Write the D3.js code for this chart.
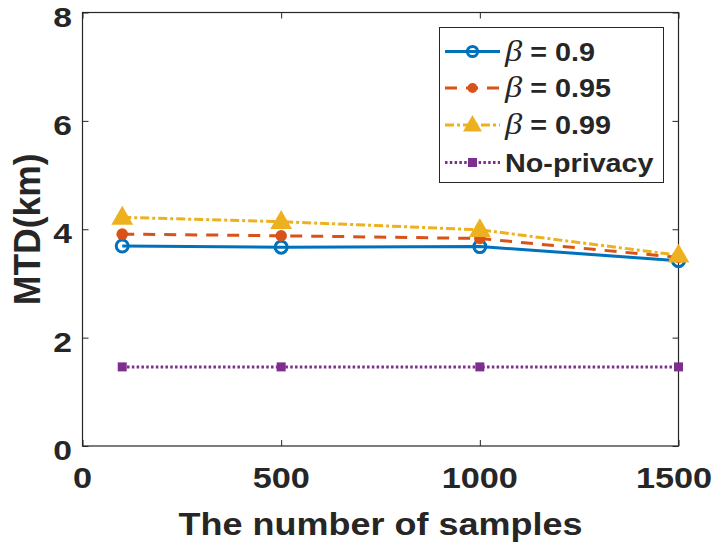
<!DOCTYPE html>
<html>
<head>
<meta charset="utf-8">
<script src="https://cdn.jsdelivr.net/npm/d3@7"></script>
<style>
  body { margin: 0; background: #fff; }
  text { font-family: "Liberation Sans", Arial, sans-serif; font-weight: bold; fill: #262626; }
</style>
</head>
<body>
<script>
// data
const samples = [100, 500, 1000, 1500]
const beta09 = [3.69, 3.67, 3.68, 3.42]
const beta095 = [3.91, 3.88, 3.83, 3.48]
const beta099 = [4.22, 4.14, 3.99, 3.52]
const noPrivacy = [1.46, 1.46, 1.46, 1.46]
const xTicks = [0, 500, 1000, 1500]
const yTicks = [0, 2, 4, 6, 8]

const series = [
  { name: "0.9", values: beta09, color: "#0072BD", dash: null, marker: "circle" },
  { name: "0.95", values: beta095, color: "#D95319", dash: "12,9", marker: "dot" },
  { name: "0.99", values: beta099, color: "#EDB120", dash: "9,3,3,3", marker: "triangle" },
  { name: "No-privacy", values: noPrivacy, color: "#7E2F8E", dash: "2.5,2.3", marker: "square" }
]

const W = 715, H = 548
const pLeft = 82.5, pRight = 678.5, pTop = 12.5, pBottom = 446
const sx = 1.18 // tick text looks horizontally stretched

const svg = d3.select("body").append("svg")
  .attr("width", W)
  .attr("height", H)

const x = d3.scaleLinear().domain([0, 1500]).range([pLeft, pRight])
const y = d3.scaleLinear().domain([0, 8]).range([pBottom, pTop])

// axes with inward ticks, mirrored on top/right
const axisColor = "#262626"
const tickLen = 6

function styleAxis(g) {
  g.select(".domain").remove()
  g.selectAll(".tick line").attr("stroke", axisColor).attr("stroke-width", 1)
}

svg.append("g")
  .attr("transform", `translate(0,${pBottom})`)
  .call(d3.axisBottom(x).tickValues(xTicks).tickSize(-tickLen).tickFormat(""))
  .call(styleAxis)
svg.append("g")
  .attr("transform", `translate(0,${pTop})`)
  .call(d3.axisTop(x).tickValues(xTicks).tickSize(-tickLen).tickFormat(""))
  .call(styleAxis)
svg.append("g")
  .attr("transform", `translate(${pLeft},0)`)
  .call(d3.axisLeft(y).tickValues(yTicks).tickSize(-tickLen).tickFormat(""))
  .call(styleAxis)
svg.append("g")
  .attr("transform", `translate(${pRight},0)`)
  .call(d3.axisRight(y).tickValues(yTicks).tickSize(-tickLen).tickFormat(""))
  .call(styleAxis)

svg.append("rect")
  .attr("x", pLeft).attr("y", pTop)
  .attr("width", pRight - pLeft).attr("height", pBottom - pTop)
  .attr("fill", "none")
  .attr("stroke", axisColor)
  .attr("stroke-width", 1.2)

// tick labels
svg.selectAll(".xlab").data(xTicks).enter()
  .append("text")
  .attr("transform", d => `translate(${Math.min(x(d), 674)},488) scale(${sx},1)`)
  .attr("text-anchor", "middle")
  .style("font-size", "29px")
  .text(d => d)

svg.selectAll(".ylab").data(yTicks).enter()
  .append("text")
  .attr("transform", d => `translate(72,${y(d) + 14}) scale(${sx},1)`)
  .attr("text-anchor", "end")
  .style("font-size", "28.5px")
  .text(d => d)

svg.append("text")
  .attr("transform", `translate(${(pLeft + pRight) / 2},535) scale(1.125,1)`)
  .attr("text-anchor", "middle")
  .style("font-size", "32px")
  .text("The number of samples")

svg.append("text")
  .attr("transform", `translate(40,${(pTop + pBottom) / 2}) rotate(-90) scale(1.11,1.18)`)
  .attr("text-anchor", "middle")
  .style("font-size", "32px")
  .text("MTD(km)")

// lines + markers
const line = d3.line()
  .x((d, i) => x(samples[i]))
  .y(d => y(d))

function drawMarker(g, type, color, cx, cy, k = 1) {
  if (type === "circle") {
    g.append("circle").attr("cx", cx).attr("cy", cy).attr("r", 6 * k)
      .attr("fill", "none").attr("stroke", color).attr("stroke-width", 3)
  } else if (type === "dot") {
    g.append("circle").attr("cx", cx).attr("cy", cy).attr("r", 5.8 * k)
      .attr("fill", color)
  } else if (type === "triangle") {
    const s = d3.symbol().type(d3.symbolTriangle).size(160 * k * k)
    g.append("path").attr("d", s()).attr("transform", `translate(${cx},${cy + 1})`)
      .attr("fill", color).attr("stroke", color).attr("stroke-width", 1.5)
  } else if (type === "square") {
    g.append("rect").attr("x", cx - 4.5).attr("y", cy - 4.5).attr("width", 9).attr("height", 9)
      .attr("fill", color)
  }
}

series.forEach(s => {
  const g = svg.append("g")
  g.append("path")
    .datum(s.values)
    .attr("d", line)
    .attr("fill", "none")
    .attr("stroke", s.color)
    .attr("stroke-width", 3)
    .attr("stroke-dasharray", s.dash)
  s.values.forEach((v, i) => drawMarker(g, s.marker, s.color, x(samples[i]), y(v)))
})

// legend
const lg = svg.append("g")
lg.append("rect")
  .attr("x", 439.5).attr("y", 27.5)
  .attr("width", 224).attr("height", 155)
  .attr("fill", "#fff")
  .attr("stroke", axisColor)
  .attr("stroke-width", 1)

const rowY = [51.5, 88, 125, 162.5]
series.forEach((s, i) => {
  const ry = rowY[i]
  lg.append("line")
    .attr("x1", 445).attr("x2", 500)
    .attr("y1", ry).attr("y2", ry)
    .attr("stroke", s.color)
    .attr("stroke-width", 3)
    .attr("stroke-dasharray", s.dash)
  drawMarker(lg, s.marker, s.color, 472.5, ry, 0.85)
  const t = lg.append("text")
    .attr("transform", `translate(505,${ry + 9}) scale(1.15,1)`)
    .style("font-size", "25px")
  if (s.name === "No-privacy") {
    t.text(s.name)
  } else {
    t.append("tspan")
      .style("font-family", "'Liberation Serif', 'DejaVu Serif', serif")
      .style("font-style", "italic")
      .style("font-weight", "normal")
      .style("font-size", "30px")
      .text("\u03B2")
    t.append("tspan").text(" = " + s.name)
  }
})
</script>
</body>
</html>
